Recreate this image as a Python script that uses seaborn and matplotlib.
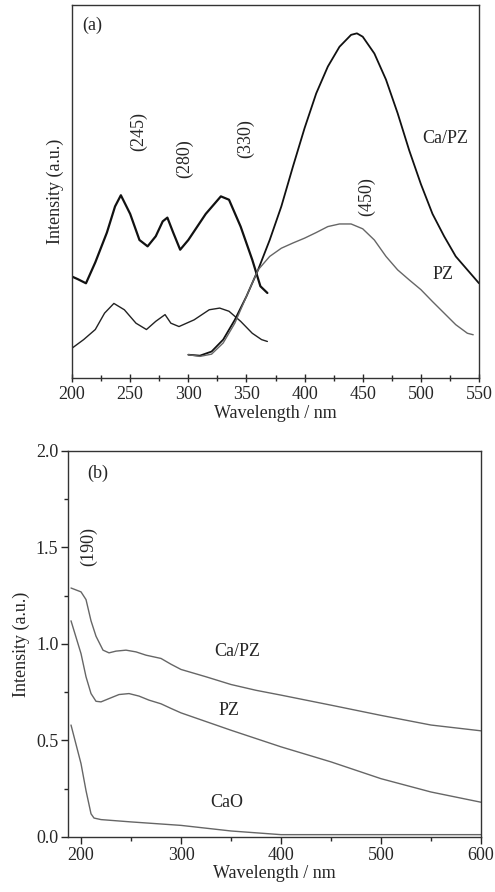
import numpy as np
import pandas as pd
import matplotlib
matplotlib.use("Agg")
import matplotlib.pyplot as plt
from matplotlib.ticker import MultipleLocator, FormatStrFormatter
import seaborn as sns

sns.set_theme(style="white")
plt.rcParams['font.family'] = ['Liberation Serif', 'DejaVu Serif']

# ---- Panel (a) data ----
exc_capz_wl = [200, 205, 212, 220, 230, 237, 242, 250, 258, 265, 272, 278, 282, 287, 293, 300, 315, 328, 335, 345, 355, 362, 368]
exc_capz_y = [0.272, 0.265, 0.254, 0.31, 0.39, 0.46, 0.49, 0.44, 0.37, 0.353, 0.38, 0.42, 0.43, 0.39, 0.344, 0.37, 0.44, 0.487, 0.478, 0.406, 0.317, 0.246, 0.228]
exc_pz_wl = [200, 210, 220, 228, 236, 245, 255, 264, 272, 280, 285, 292, 305, 318, 327, 335, 345, 355, 363, 368]
exc_pz_y = [0.08, 0.103, 0.13, 0.174, 0.2, 0.183, 0.147, 0.13, 0.152, 0.17, 0.147, 0.138, 0.156, 0.183, 0.1875, 0.179, 0.152, 0.12, 0.103, 0.098]
em_capz_wl = [300, 310, 320, 330, 340, 350, 360, 370, 380, 390, 400, 410, 420, 430, 440, 445, 450, 460, 470, 480, 490, 500, 510, 520, 530, 540, 550]
em_capz_y = [0.0625, 0.06, 0.071, 0.103, 0.156, 0.219, 0.29, 0.37, 0.46, 0.567, 0.67, 0.763, 0.835, 0.888, 0.92, 0.924, 0.915, 0.87, 0.8, 0.71, 0.61, 0.52, 0.44, 0.38, 0.326, 0.29, 0.254]
em_pz_wl = [300, 310, 320, 330, 340, 350, 360, 370, 380, 390, 400, 410, 420, 430, 440, 450, 460, 470, 480, 490, 500, 510, 520, 530, 540, 545]
em_pz_y = [0.0625, 0.058, 0.064, 0.094, 0.147, 0.219, 0.29, 0.326, 0.348, 0.362, 0.375, 0.39, 0.406, 0.413, 0.413, 0.40, 0.37, 0.326, 0.29, 0.263, 0.237, 0.205, 0.174, 0.143, 0.12, 0.116]

# ---- Panel (b) data ----
b_capz_wl = [190, 200, 205, 210, 215, 222, 228, 235, 245, 255, 265, 280, 290, 300, 325, 350, 375, 400, 450, 500, 550, 600]
b_capz_y = [1.29, 1.27, 1.23, 1.12, 1.04, 0.968, 0.954, 0.963, 0.968, 0.959, 0.942, 0.925, 0.895, 0.868, 0.83, 0.79, 0.76, 0.735, 0.683, 0.63, 0.58, 0.55]
b_pz_wl = [190, 200, 205, 210, 215, 220, 228, 238, 248, 258, 268, 280, 290, 300, 350, 400, 450, 500, 550, 600]
b_pz_y = [1.12, 0.95, 0.83, 0.743, 0.703, 0.70, 0.717, 0.738, 0.743, 0.73, 0.709, 0.69, 0.666, 0.643, 0.553, 0.467, 0.389, 0.302, 0.233, 0.18]
b_cao_wl = [190, 195, 200, 205, 210, 213, 220, 250, 300, 350, 400, 500, 600]
b_cao_y = [0.58, 0.48, 0.38, 0.24, 0.12, 0.098, 0.09, 0.078, 0.06, 0.031, 0.012, 0.012, 0.012]

fig = plt.figure(figsize=(4.95, 8.92), dpi=100)
ax1 = fig.add_axes([0.1455, 0.5762, 0.8222, 0.4182])
ax2 = fig.add_axes([0.1374, 0.0617, 0.8343, 0.4327])

fs = 13
col_dark = '#111111'
col_gray = '#666666'

sns.lineplot(x=exc_capz_wl, y=exc_capz_y, ax=ax1, color=col_dark, lw=1.6, estimator=None, sort=False)
sns.lineplot(x=exc_pz_wl, y=exc_pz_y, ax=ax1, color='#222222', lw=1.0, estimator=None, sort=False)
sns.lineplot(x=em_capz_wl, y=em_capz_y, ax=ax1, color=col_dark, lw=1.3, estimator=None, sort=False)
sns.lineplot(x=em_pz_wl, y=em_pz_y, ax=ax1, color=col_gray, lw=1.0, estimator=None, sort=False)

ax1.set_xlim(200, 550)
ax1.set_ylim(0, 1)
ax1.set_yticks([])
ax1.xaxis.set_major_locator(MultipleLocator(50))
ax1.xaxis.set_minor_locator(MultipleLocator(25))
ax1.tick_params(axis='x', which='major', direction='inout', length=6, width=1, labelsize=fs, bottom=True, pad=3)
ax1.tick_params(axis='x', which='minor', direction='inout', length=4, width=1, bottom=True)
ax1.set_xlabel('Wavelength / nm', fontsize=fs, labelpad=1)
ax1.set_ylabel('Intensity (a.u.)', fontsize=fs, labelpad=6)
for s in ax1.spines.values():
    s.set_color('#333333'); s.set_linewidth(1.0)

ax1.text(217, 0.946, '(a)', fontsize=fs, ha='center', va='center')
ax1.text(257, 0.66, '(245)', fontsize=fs, rotation=90, ha='center', va='center')
ax1.text(297, 0.587, '(280)', fontsize=fs, rotation=90, ha='center', va='center')
ax1.text(349, 0.643, '(330)', fontsize=fs, rotation=90, ha='center', va='center')
ax1.text(453.5, 0.487, '(450)', fontsize=fs, rotation=90, ha='center', va='center')
ax1.text(521, 0.643, 'Ca/PZ', fontsize=fs, ha='center', va='center')
ax1.text(519, 0.277, 'PZ', fontsize=fs, ha='center', va='center')

sns.lineplot(x=b_capz_wl, y=b_capz_y, ax=ax2, color=col_gray, lw=1.0, estimator=None, sort=False)
sns.lineplot(x=b_pz_wl, y=b_pz_y, ax=ax2, color=col_gray, lw=1.0, estimator=None, sort=False)
sns.lineplot(x=b_cao_wl, y=b_cao_y, ax=ax2, color=col_gray, lw=1.0, estimator=None, sort=False)

ax2.set_xlim(187, 600)
ax2.set_ylim(0, 2.0)
ax2.xaxis.set_major_locator(MultipleLocator(100))
ax2.xaxis.set_minor_locator(MultipleLocator(50))
ax2.yaxis.set_major_locator(MultipleLocator(0.5))
ax2.yaxis.set_minor_locator(MultipleLocator(0.25))
ax2.yaxis.set_major_formatter(FormatStrFormatter('%.1f'))
ax2.tick_params(which='major', direction='out', length=5, width=1, labelsize=fs, bottom=True, left=True, pad=2)
ax2.tick_params(which='minor', direction='out', length=3, width=1, bottom=True, left=True)
ax2.set_xlabel('Wavelength / nm', fontsize=fs, labelpad=1)
ax2.set_ylabel('Intensity (a.u.)', fontsize=fs, labelpad=4)
for s in ax2.spines.values():
    s.set_color('#333333'); s.set_linewidth(1.0)

ax2.text(216.8, 1.884, '(b)', fontsize=fs, ha='center', va='center')
ax2.text(207.7, 1.504, '(190)', fontsize=fs, rotation=90, ha='center', va='center')
ax2.text(356.7, 0.959, 'Ca/PZ', fontsize=fs, ha='center', va='center')
ax2.text(347.7, 0.657, 'PZ', fontsize=fs, ha='center', va='center')
ax2.text(346, 0.18, 'CaO', fontsize=fs, ha='center', va='center')

fig.savefig('out.png', dpi=100)
